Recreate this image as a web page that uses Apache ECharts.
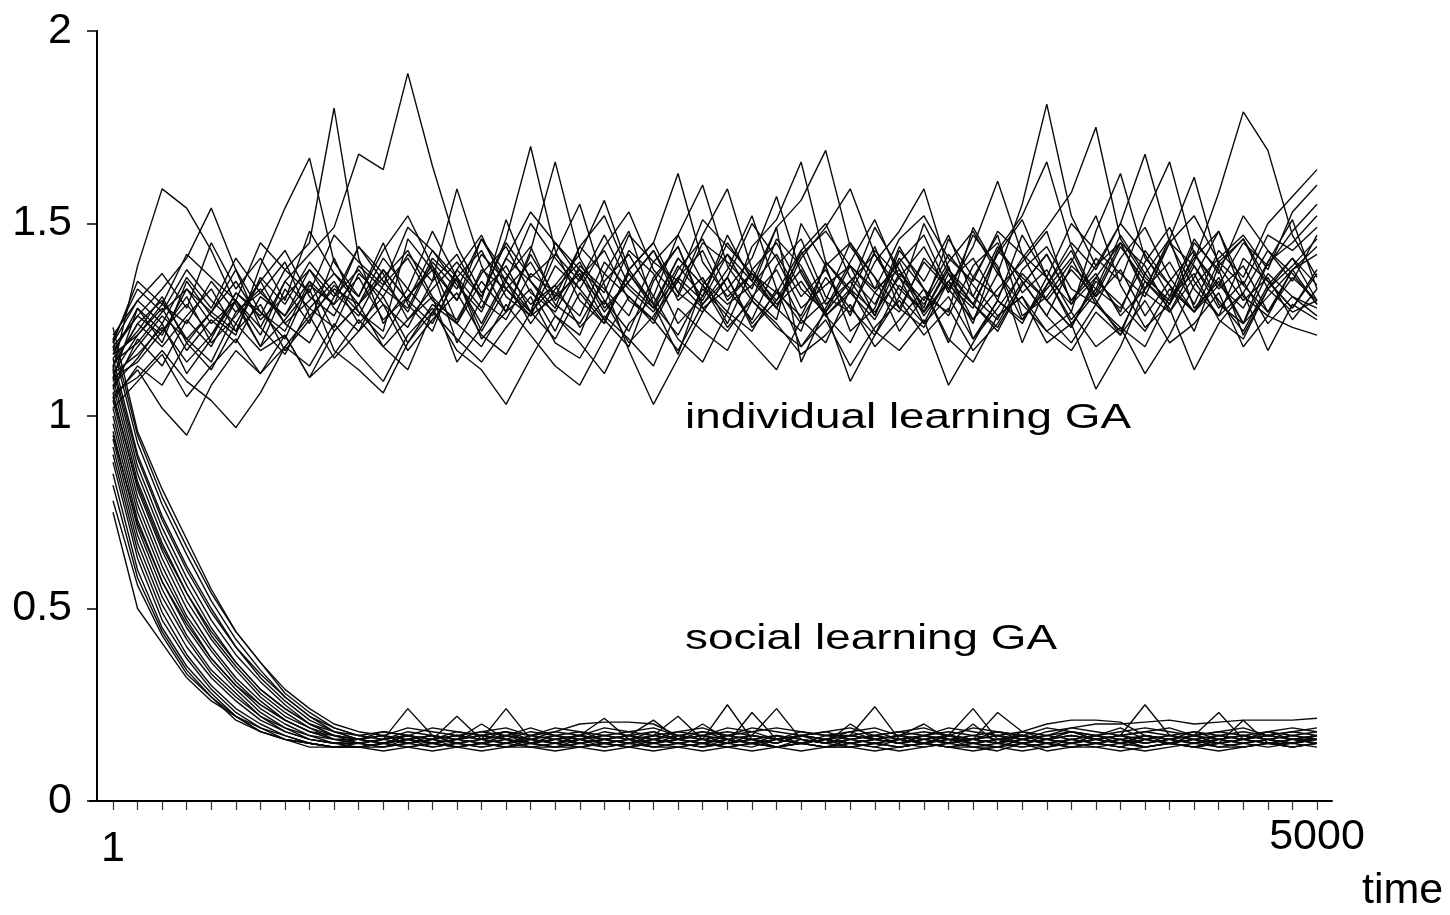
<!DOCTYPE html>
<html>
<head>
<meta charset="utf-8">
<script src="https://cdn.jsdelivr.net/npm/echarts@6/dist/echarts.min.js"></script>
<style>
  html, body { margin: 0; padding: 0; background: #fff; }
  #chart { width: 1450px; height: 915px; }
</style>
</head>
<body>
<div id="chart"></div>
<script>
// Sampled generations (50 samples from 1 to 5000)
const times = [1,103,205,307,409,511,613,715,817,919,
  1021,1123,1225,1327,1429,1531,1633,1735,1837,1939,
  2041,2143,2245,2347,2449,2552,2654,2756,2858,2960,
  3062,3164,3266,3368,3470,3572,3674,3776,3878,3980,
  4082,4184,4286,4388,4490,4592,4694,4796,4898,5000];

const xTickLabels = [1, 5000];
const yTicks = [0, 0.5, 1, 1.5, 2];

// Individual learning GA runs
const ind01 = [1.12,1.39,1.59,1.54,1.43,1.29,1.18,1.33,1.24,1.41, 1.27,1.22,1.46,1.38,1.19,1.30,1.51,1.35,1.26,1.21, 1.37,1.48,1.29,1.16,1.34,1.42,1.31,1.25,1.50,1.39, 1.22,1.28,1.44,1.33,1.19,1.36,1.47,1.26,1.31,1.40, 1.52,1.34,1.23,1.29,1.45,1.38,1.21,1.33,1.41,1.30];
const ind02 = [1.08,1.15,1.24,1.11,1.20,1.32,1.26,1.38,1.45,1.80, 1.41,1.24,1.33,1.48,1.36,1.20,1.27,1.42,1.31,1.37, 1.25,1.18,1.35,1.44,1.29,1.38,1.52,1.33,1.24,1.30, 1.45,1.36,1.22,1.31,1.27,1.49,1.38,1.25,1.34,1.43, 1.30,1.21,1.37,1.46,1.28,1.35,1.24,1.40,1.51,1.33];
const ind03 = [1.15,1.22,1.31,1.19,1.27,1.38,1.23,1.35,1.42,1.49, 1.68,1.64,1.89,1.65,1.44,1.32,1.39,1.27,1.45,1.36, 1.29,1.43,1.37,1.24,1.31,1.47,1.35,1.28,1.22,1.40, 1.33,1.49,1.38,1.26,1.35,1.29,1.42,1.51,1.36,1.24, 1.32,1.45,1.39,1.27,1.36,1.48,1.31,1.26,1.38,1.44];
const ind04 = [1.10,1.28,1.19,1.35,1.26,1.21,1.39,1.54,1.67,1.40, 1.31,1.45,1.29,1.22,1.38,1.47,1.33,1.26,1.31,1.44, 1.52,1.37,1.28,1.41,1.34,1.23,1.30,1.46,1.39,1.27, 1.35,1.42,1.31,1.50,1.37,1.25,1.33,1.40,1.48,1.29, 1.36,1.27,1.43,1.34,1.22,1.39,1.46,1.35,1.28,1.38];
const ind05 = [1.05,1.12,1.02,0.95,1.08,1.17,1.11,1.21,1.10,1.16, 1.25,1.18,1.12,1.27,1.20,1.14,1.23,1.31,1.19,1.15, 1.26,1.20,1.13,1.28,1.22,1.17,1.30,1.24,1.16,1.21, 1.29,1.18,1.25,1.33,1.20,1.14,1.26,1.31,1.22,1.17, 1.27,1.21,1.30,1.19,1.24,1.32,1.18,1.26,1.23,1.21];
const ind06 = [1.06,1.10,1.17,1.09,1.04,0.97,1.06,1.18,1.13,1.24, 1.16,1.09,1.21,1.28,1.17,1.12,1.03,1.15,1.26,1.19, 1.11,1.24,1.31,1.20,1.14,1.27,1.22,1.33,1.18,1.25, 1.13,1.23,1.30,1.21,1.28,1.17,1.24,1.35,1.26,1.19, 1.29,1.23,1.18,1.31,1.37,1.25,1.20,1.33,1.27,1.30];
const ind07 = [1.18,1.26,1.33,1.41,1.54,1.38,1.27,1.22,1.35,1.29, 1.44,1.37,1.25,1.33,1.40,1.31,1.46,1.70,1.43,1.30, 1.24,1.38,1.45,1.32,1.27,1.36,1.50,1.41,1.28,1.34, 1.39,1.26,1.43,1.35,1.47,1.31,1.25,1.38,1.44,1.33, 1.29,1.41,1.49,1.36,1.27,1.34,1.45,1.39,1.48,1.55];
const ind08 = [1.14,1.19,1.27,1.33,1.24,1.30,1.21,1.35,1.28,1.23, 1.37,1.31,1.42,1.35,1.59,1.39,1.27,1.33,1.22,1.36, 1.43,1.30,1.25,1.38,1.46,1.33,1.41,1.57,1.37,1.26, 1.32,1.44,1.28,1.23,1.35,1.41,1.30,1.47,1.36,1.25, 1.33,1.28,1.40,1.49,1.35,1.26,1.32,1.43,1.37,1.29];
const ind09 = [1.11,1.16,1.23,1.14,1.21,1.30,1.18,1.25,1.33,1.17, 1.12,1.06,1.19,1.29,1.24,1.35,1.27,1.43,1.66,1.41, 1.30,1.22,1.36,1.44,1.28,1.33,1.25,1.39,1.46,1.31, 1.27,1.40,1.48,1.59,1.38,1.29,1.23,1.34,1.42,1.30, 1.37,1.26,1.33,1.45,1.39,1.28,1.35,1.24,1.31,1.26];
const ind10 = [1.16,1.28,1.22,1.31,1.19,1.26,1.35,1.24,1.30,1.37, 1.29,1.41,1.33,1.26,1.38,1.31,1.45,1.36,1.42,1.55, 1.34,1.17,1.03,1.15,1.27,1.36,1.24,1.32,1.43,1.29, 1.35,1.26,1.40,1.47,1.33,1.44,1.61,1.42,1.30,1.23, 1.36,1.45,1.32,1.27,1.39,1.30,1.22,1.34,1.41,1.34];
const ind11 = [1.13,1.24,1.18,1.26,1.33,1.22,1.29,1.17,1.25,1.34, 1.27,1.20,1.31,1.39,1.24,1.18,1.29,1.21,1.13,1.08, 1.20,1.31,1.25,1.17,1.29,1.36,1.23,1.30,1.38,1.26, 1.19,1.32,1.40,1.27,1.35,1.24,1.43,1.52,1.66,1.44, 1.31,1.38,1.26,1.35,1.43,1.29,1.24,1.37,1.31,1.28];
const ind12 = [1.19,1.30,1.24,1.36,1.28,1.41,1.32,1.26,1.38,1.31, 1.44,1.35,1.27,1.40,1.33,1.46,1.37,1.29,1.34,1.42, 1.56,1.38,1.45,1.63,1.40,1.31,1.37,1.28,1.43,1.50, 1.36,1.29,1.41,1.33,1.26,1.39,1.45,1.32,1.38,1.27, 1.48,1.63,1.41,1.34,1.27,1.40,1.46,1.33,1.39,1.46];
const ind13 = [1.07,1.20,1.13,1.25,1.18,1.30,1.23,1.16,1.28,1.35, 1.24,1.31,1.19,1.27,1.36,1.22,1.33,1.40,1.29,1.24, 1.35,1.42,1.31,1.47,1.60,1.39,1.30,1.23,1.18,1.27, 1.09,1.21,1.31,1.24,1.37,1.29,1.22,1.34,1.42,1.30, 1.39,1.50,1.68,1.45,1.33,1.26,1.41,1.35,1.28,1.37];
const ind14 = [1.20,1.33,1.27,1.38,1.30,1.24,1.35,1.43,1.31,1.26, 1.39,1.33,1.28,1.41,1.35,1.24,1.36,1.44,1.30,1.38, 1.27,1.35,1.43,1.32,1.47,1.59,1.38,1.29,1.35,1.26, 1.33,1.22,1.17,1.25,1.08,1.19,1.30,1.24,1.36,1.29, 1.41,1.35,1.52,1.66,1.42,1.33,1.39,1.27,1.36,1.30];
const ind15 = [1.11,1.21,1.28,1.17,1.25,1.19,1.31,1.26,1.35,1.22, 1.29,1.38,1.30,1.24,1.36,1.43,1.31,1.26,1.39,1.33, 1.25,1.37,1.29,1.41,1.34,1.27,1.44,1.51,1.66,1.40, 1.32,1.25,1.37,1.30,1.42,1.34,1.26,1.31,1.19,1.24, 1.07,1.18,1.33,1.46,1.62,1.39,1.30,1.36,1.25,1.33];
const ind16 = [1.17,1.26,1.21,1.33,1.27,1.22,1.36,1.29,1.40,1.32, 1.26,1.38,1.30,1.43,1.34,1.27,1.41,1.35,1.28,1.44, 1.37,1.31,1.24,1.36,1.30,1.42,1.35,1.49,1.56,1.69, 1.44,1.36,1.28,1.40,1.33,1.25,1.37,1.29,1.22,1.27, 1.18,1.23,1.11,1.21,1.34,1.41,1.47,1.38,1.53,1.60];
const ind17 = [1.09,1.18,1.26,1.20,1.14,1.27,1.33,1.24,1.19,1.31, 1.38,1.29,1.23,1.35,1.42,1.30,1.25,1.37,1.32,1.26, 1.40,1.33,1.27,1.39,1.31,1.45,1.36,1.28,1.41,1.49, 1.59,1.42,1.33,1.27,1.38,1.31,1.44,1.35,1.26,1.39, 1.33,1.47,1.37,1.29,1.42,1.34,1.28,1.40,1.45,1.52];
const ind18 = [1.13,1.24,1.30,1.20,1.27,1.35,1.25,1.31,1.38,1.28, 1.22,1.34,1.41,1.30,1.25,1.37,1.44,1.32,1.27,1.39, 1.33,1.26,1.40,1.47,1.35,1.29,1.34,1.42,1.31,1.38, 1.26,1.43,1.36,1.29,1.40,1.48,1.37,1.55,1.81,1.52, 1.39,1.45,1.33,1.40,1.29,1.43,1.36,1.50,1.57,1.64];
const ind19 = [1.16,1.21,1.29,1.24,1.35,1.27,1.32,1.40,1.26,1.33, 1.29,1.36,1.43,1.31,1.24,1.38,1.33,1.27,1.42,1.35, 1.47,1.34,1.28,1.36,1.43,1.30,1.37,1.32,1.26,1.39, 1.45,1.33,1.38,1.28,1.46,1.36,1.31,1.41,1.49,1.58, 1.75,1.46,1.36,1.30,1.41,1.48,1.34,1.27,1.38,1.42];
const ind20 = [1.10,1.14,1.22,1.29,1.21,1.32,1.27,1.20,1.34,1.29, 1.36,1.25,1.31,1.38,1.30,1.42,1.35,1.24,1.33,1.40, 1.28,1.35,1.43,1.30,1.36,1.24,1.38,1.45,1.33,1.27, 1.39,1.32,1.27,1.41,1.34,1.28,1.43,1.36,1.30,1.38, 1.31,1.44,1.35,1.29,1.40,1.58,1.79,1.69,1.47,1.36];
const ind21 = [1.04,1.13,1.08,1.19,1.12,1.24,1.17,1.21,1.10,1.22, 1.29,1.18,1.25,1.31,1.14,1.23,1.35,1.27,1.20,1.32, 1.24,1.38,1.29,1.21,1.33,1.26,1.19,1.12,1.25,1.36, 1.28,1.21,1.34,1.27,1.39,1.20,1.30,1.25,1.33,1.41, 1.29,1.22,1.35,1.28,1.12,1.24,1.32,1.17,1.29,1.25];
const ind22 = [1.21,1.30,1.37,1.28,1.45,1.33,1.41,1.30,1.48,1.37, 1.31,1.43,1.52,1.39,1.30,1.46,1.35,1.50,1.41,1.33, 1.44,1.53,1.38,1.31,1.45,1.40,1.33,1.49,1.14,1.28, 1.40,1.51,1.36,1.44,1.32,1.47,1.39,1.19,1.34,1.45, 1.38,1.50,1.42,1.31,1.46,1.37,1.52,1.43,1.35,1.47];
const ind23 = [1.02,1.09,1.16,1.05,1.13,1.20,1.11,1.18,1.26,1.15, 1.22,1.29,1.17,1.25,1.32,1.21,1.16,1.27,1.34,1.23, 1.30,1.19,1.26,1.35,1.28,1.22,1.31,1.38,1.25,1.19, 1.33,1.27,1.36,1.24,1.31,1.20,1.28,1.37,1.30,1.23, 1.35,1.29,1.22,1.33,1.27,1.36,1.24,1.31,1.38,1.29];
const ind24 = [1.19,1.35,1.29,1.42,1.36,1.30,1.45,1.38,1.32,1.47, 1.40,1.34,1.49,1.43,1.36,1.28,1.41,1.53,1.45,1.38, 1.32,1.47,1.40,1.35,1.51,1.44,1.37,1.30,1.42,1.48, 1.39,1.33,1.46,1.52,1.41,1.35,1.48,1.42,1.36,1.50, 1.43,1.37,1.31,1.45,1.52,1.40,1.34,1.47,1.43,1.49];

// Social learning GA runs
const soc01 = [1.23,0.96,0.81,0.68,0.55,0.44,0.36,0.28,0.23,0.19, 0.17,0.16,0.24,0.17,0.15,0.16,0.18,0.15,0.16,0.17, 0.15,0.16,0.18,0.16,0.15,0.17,0.16,0.15,0.17,0.16, 0.18,0.16,0.15,0.17,0.16,0.16,0.15,0.17,0.16,0.18, 0.16,0.15,0.17,0.16,0.15,0.17,0.16,0.18,0.16,0.17];
const soc02 = [1.18,0.93,0.77,0.64,0.52,0.42,0.34,0.27,0.22,0.18, 0.16,0.15,0.17,0.16,0.22,0.16,0.15,0.17,0.16,0.15, 0.16,0.17,0.15,0.16,0.18,0.16,0.15,0.16,0.17,0.15, 0.16,0.17,0.16,0.15,0.17,0.16,0.15,0.18,0.16,0.15, 0.17,0.16,0.15,0.16,0.17,0.15,0.16,0.17,0.16,0.15];
const soc03 = [1.15,0.90,0.74,0.61,0.50,0.40,0.32,0.26,0.21,0.18, 0.16,0.17,0.15,0.16,0.17,0.16,0.24,0.16,0.15,0.17, 0.16,0.15,0.16,0.17,0.16,0.15,0.17,0.16,0.15,0.16, 0.17,0.16,0.15,0.17,0.16,0.15,0.16,0.17,0.15,0.16, 0.17,0.16,0.15,0.16,0.18,0.16,0.15,0.16,0.17,0.16];
const soc04 = [1.12,0.87,0.71,0.58,0.47,0.38,0.31,0.25,0.20,0.17, 0.16,0.15,0.16,0.17,0.15,0.16,0.17,0.16,0.18,0.20, 0.205,0.205,0.20,0.17,0.16,0.25,0.16,0.15,0.17,0.16, 0.15,0.16,0.17,0.16,0.15,0.16,0.17,0.15,0.16,0.17, 0.16,0.15,0.17,0.16,0.15,0.16,0.17,0.16,0.15,0.16];
const soc05 = [1.10,0.85,0.69,0.56,0.45,0.36,0.29,0.24,0.20,0.17, 0.15,0.16,0.17,0.15,0.16,0.17,0.16,0.15,0.16,0.17, 0.215,0.16,0.15,0.17,0.16,0.15,0.23,0.16,0.15,0.17, 0.16,0.15,0.16,0.17,0.15,0.16,0.17,0.16,0.15,0.16, 0.17,0.15,0.16,0.17,0.16,0.15,0.16,0.17,0.16,0.15];
const soc06 = [1.08,0.83,0.67,0.54,0.43,0.35,0.28,0.23,0.19,0.17, 0.16,0.15,0.16,0.17,0.16,0.20,0.16,0.15,0.16,0.17, 0.16,0.15,0.17,0.16,0.15,0.16,0.17,0.24,0.16,0.15, 0.17,0.16,0.15,0.16,0.17,0.15,0.16,0.17,0.16,0.15, 0.16,0.17,0.15,0.16,0.17,0.16,0.15,0.16,0.17,0.16];
const soc07 = [1.06,0.81,0.65,0.52,0.42,0.34,0.27,0.22,0.19,0.16, 0.15,0.16,0.17,0.16,0.15,0.16,0.17,0.15,0.16,0.17, 0.16,0.15,0.17,0.22,0.16,0.15,0.16,0.17,0.15,0.16, 0.17,0.245,0.16,0.15,0.17,0.16,0.15,0.16,0.17,0.16, 0.15,0.16,0.17,0.15,0.16,0.17,0.16,0.15,0.16,0.17];
const soc08 = [1.04,0.79,0.63,0.50,0.40,0.32,0.26,0.21,0.18,0.16, 0.16,0.17,0.15,0.16,0.17,0.16,0.15,0.17,0.16,0.15, 0.16,0.17,0.21,0.16,0.15,0.16,0.17,0.16,0.15,0.16, 0.17,0.16,0.15,0.16,0.17,0.24,0.16,0.15,0.16,0.17, 0.16,0.15,0.17,0.16,0.15,0.16,0.17,0.16,0.15,0.16];
const soc09 = [1.02,0.77,0.61,0.48,0.39,0.31,0.25,0.21,0.18,0.16, 0.15,0.16,0.17,0.15,0.16,0.17,0.16,0.15,0.17,0.16, 0.15,0.16,0.17,0.16,0.20,0.16,0.15,0.17,0.16,0.15, 0.16,0.17,0.15,0.16,0.17,0.16,0.23,0.18,0.20,0.21, 0.21,0.205,0.17,0.16,0.15,0.16,0.17,0.16,0.15,0.16];
const soc10 = [1.00,0.75,0.59,0.47,0.37,0.30,0.24,0.20,0.17,0.16, 0.16,0.15,0.16,0.17,0.16,0.15,0.17,0.16,0.15,0.16, 0.17,0.16,0.15,0.16,0.17,0.15,0.16,0.17,0.16,0.15, 0.20,0.16,0.17,0.15,0.16,0.17,0.16,0.15,0.16,0.17, 0.16,0.17,0.25,0.17,0.16,0.15,0.16,0.17,0.16,0.15];
const soc11 = [0.98,0.73,0.57,0.45,0.36,0.29,0.23,0.19,0.17,0.15, 0.15,0.16,0.15,0.16,0.17,0.16,0.15,0.16,0.17,0.15, 0.16,0.17,0.16,0.15,0.16,0.17,0.16,0.15,0.17,0.16, 0.15,0.16,0.17,0.20,0.16,0.15,0.16,0.17,0.16,0.15, 0.16,0.17,0.16,0.15,0.17,0.23,0.16,0.15,0.16,0.17];
const soc12 = [0.96,0.71,0.55,0.43,0.34,0.28,0.22,0.19,0.16,0.15, 0.16,0.17,0.16,0.15,0.16,0.17,0.18,0.16,0.15,0.16, 0.17,0.16,0.15,0.16,0.17,0.16,0.15,0.16,0.17,0.16, 0.15,0.16,0.17,0.16,0.15,0.16,0.17,0.16,0.18,0.19, 0.20,0.20,0.205,0.21,0.20,0.205,0.21,0.21,0.21,0.215];
const soc13 = [0.94,0.69,0.53,0.42,0.33,0.27,0.22,0.18,0.16,0.15, 0.14,0.15,0.16,0.15,0.14,0.15,0.16,0.15,0.14,0.15, 0.16,0.15,0.14,0.15,0.16,0.15,0.14,0.16,0.15,0.14, 0.15,0.16,0.15,0.14,0.15,0.20,0.15,0.14,0.15,0.16, 0.15,0.14,0.16,0.15,0.14,0.15,0.21,0.15,0.14,0.15];
const soc14 = [0.92,0.67,0.51,0.40,0.32,0.26,0.21,0.18,0.16,0.15, 0.15,0.14,0.15,0.16,0.14,0.15,0.14,0.16,0.15,0.14, 0.15,0.16,0.14,0.15,0.14,0.15,0.16,0.14,0.15,0.16, 0.14,0.15,0.16,0.15,0.14,0.15,0.14,0.16,0.15,0.14, 0.15,0.16,0.14,0.15,0.16,0.14,0.15,0.16,0.15,0.16];
const soc15 = [0.90,0.65,0.49,0.38,0.30,0.24,0.20,0.17,0.15,0.14, 0.14,0.15,0.14,0.15,0.16,0.15,0.14,0.15,0.14,0.16, 0.15,0.14,0.15,0.16,0.15,0.14,0.15,0.14,0.16,0.15, 0.14,0.15,0.14,0.15,0.16,0.14,0.13,0.15,0.14,0.15, 0.16,0.15,0.14,0.15,0.14,0.16,0.15,0.14,0.15,0.14];
const soc16 = [0.88,0.63,0.47,0.37,0.29,0.23,0.19,0.17,0.15,0.14, 0.14,0.13,0.14,0.15,0.14,0.13,0.14,0.15,0.14,0.14, 0.13,0.14,0.15,0.14,0.13,0.14,0.15,0.14,0.13,0.14, 0.15,0.14,0.13,0.14,0.15,0.14,0.14,0.13,0.14,0.15, 0.14,0.13,0.14,0.15,0.14,0.13,0.14,0.15,0.14,0.15];
const soc17 = [0.85,0.60,0.45,0.35,0.28,0.22,0.19,0.16,0.15,0.14, 0.15,0.14,0.16,0.15,0.14,0.15,0.16,0.14,0.15,0.16, 0.14,0.15,0.16,0.15,0.14,0.16,0.15,0.14,0.15,0.16, 0.15,0.14,0.16,0.15,0.14,0.15,0.16,0.15,0.14,0.16, 0.15,0.14,0.16,0.15,0.16,0.14,0.15,0.16,0.15,0.17];
const soc18 = [0.82,0.58,0.44,0.34,0.27,0.22,0.18,0.16,0.15,0.14, 0.14,0.15,0.14,0.13,0.14,0.15,0.14,0.14,0.13,0.14, 0.15,0.14,0.13,0.14,0.15,0.14,0.13,0.14,0.15,0.14, 0.14,0.13,0.14,0.15,0.14,0.13,0.14,0.15,0.13,0.14, 0.15,0.14,0.13,0.14,0.15,0.14,0.14,0.15,0.14,0.15];
const soc19 = [0.78,0.56,0.43,0.33,0.27,0.21,0.18,0.16,0.14,0.14, 0.14,0.15,0.16,0.14,0.15,0.14,0.15,0.16,0.15,0.14, 0.15,0.14,0.16,0.15,0.14,0.15,0.16,0.14,0.15,0.14, 0.16,0.15,0.14,0.15,0.16,0.15,0.14,0.16,0.15,0.14, 0.15,0.16,0.14,0.15,0.14,0.15,0.16,0.15,0.16,0.16];
const soc20 = [0.75,0.50,0.41,0.32,0.26,0.22,0.18,0.16,0.15,0.14, 0.14,0.14,0.15,0.14,0.15,0.14,0.15,0.14,0.14,0.15, 0.14,0.15,0.14,0.14,0.15,0.14,0.15,0.14,0.15,0.14, 0.14,0.15,0.14,0.15,0.14,0.14,0.15,0.14,0.15,0.14, 0.14,0.15,0.14,0.15,0.14,0.15,0.14,0.15,0.15,0.16];
const soc21 = [1.20,0.95,0.79,0.66,0.54,0.44,0.36,0.29,0.24,0.20, 0.18,0.17,0.19,0.18,0.17,0.18,0.19,0.17,0.18,0.17, 0.19,0.18,0.17,0.18,0.19,0.17,0.18,0.19,0.18,0.17, 0.18,0.19,0.17,0.18,0.17,0.19,0.18,0.17,0.19,0.18, 0.17,0.18,0.19,0.18,0.17,0.18,0.19,0.17,0.18,0.19];
const soc22 = [1.13,0.89,0.73,0.60,0.49,0.40,0.33,0.27,0.22,0.19, 0.17,0.18,0.17,0.19,0.18,0.17,0.18,0.17,0.19,0.18, 0.17,0.18,0.19,0.17,0.18,0.17,0.19,0.18,0.17,0.18, 0.19,0.17,0.18,0.17,0.19,0.18,0.17,0.18,0.17,0.19, 0.18,0.17,0.18,0.19,0.17,0.18,0.17,0.18,0.19,0.18];
const soc23 = [1.05,0.82,0.66,0.54,0.44,0.36,0.29,0.24,0.20,0.18, 0.17,0.16,0.18,0.17,0.16,0.18,0.17,0.19,0.17,0.16, 0.18,0.17,0.16,0.18,0.17,0.19,0.18,0.16,0.17,0.18, 0.16,0.17,0.18,0.19,0.17,0.16,0.18,0.17,0.16,0.18, 0.17,0.19,0.16,0.17,0.18,0.17,0.16,0.18,0.17,0.18];
const soc24 = [0.95,0.72,0.57,0.46,0.37,0.30,0.25,0.21,0.18,0.17, 0.16,0.18,0.17,0.16,0.18,0.17,0.16,0.18,0.17,0.18, 0.16,0.17,0.18,0.16,0.17,0.18,0.17,0.16,0.18,0.17, 0.17,0.18,0.16,0.17,0.18,0.17,0.18,0.16,0.17,0.18, 0.16,0.17,0.18,0.17,0.16,0.17,0.18,0.17,0.18,0.17];

const individualRuns = [ind01, ind02, ind03, ind04, ind05, ind06, ind07, ind08, ind09, ind10, ind11, ind12,
  ind13, ind14, ind15, ind16, ind17, ind18, ind19, ind20, ind21, ind22, ind23, ind24];
const socialRuns = [soc01, soc02, soc03, soc04, soc05, soc06, soc07, soc08, soc09, soc10, soc11, soc12,
  soc13, soc14, soc15, soc16, soc17, soc18, soc19, soc20, soc21, soc22, soc23, soc24];

const FONT = '"Liberation Sans", Arial, Helvetica, sans-serif';
const INK = '#000';

function runSeries(runs, group) {
  return runs.map((run, r) => ({
    name: group + ' ' + (r + 1),
    type: 'line',
    data: run.map((v, k) => [times[k], v]),
    symbol: 'none',
    showSymbol: false,
    silent: true,
    lineStyle: { color: '#0a0a0a', width: 1.4 },
    emphasis: { disabled: true }
  }));
}

const chart = echarts.init(document.getElementById('chart'), null, { renderer: 'canvas' });

chart.setOption({
  animation: false,
  backgroundColor: '#fff',
  grid: { left: 90, right: 118, top: 31, bottom: 114, containLabel: false },
  xAxis: {
    type: 'value',
    min: -94.5,
    max: 5062.3,
    splitLine: { show: false },
    axisLine: { show: true, onZero: false, lineStyle: { color: INK, width: 2 } },
    axisTick: {
      show: true,
      customValues: times,
      length: 9,
      lineStyle: { color: '#333', width: 1.2 }
    },
    axisLabel: {
      customValues: xTickLabels,
      margin: 15,
      color: INK,
      fontSize: 43,
      fontFamily: FONT,
      formatter: v => (v === 1 ? '{first|1}' : String(v)),
      rich: { first: { fontSize: 43, fontFamily: FONT, color: INK, padding: [12, 0, 0, 0] } }
    }
  },
  yAxis: {
    type: 'value',
    min: yTicks[0],
    max: yTicks[yTicks.length - 1],
    interval: 0.5,
    offset: -7,
    splitLine: { show: false },
    axisLine: { show: true, onZero: false, lineStyle: { color: INK, width: 2 } },
    axisTick: { show: true, length: 10, lineStyle: { color: INK, width: 1.5 } },
    axisLabel: { margin: 25, color: INK, fontSize: 43, fontFamily: FONT }
  },
  graphic: [
    {
      type: 'text', x: 685, y: 418, scaleX: 1.31, silent: true,
      style: { text: 'individual learning GA', fontSize: 35, fontFamily: FONT, fill: INK, align: 'left', verticalAlign: 'middle' }
    },
    {
      type: 'text', x: 685, y: 639, scaleX: 1.31, silent: true,
      style: { text: 'social learning GA', fontSize: 35, fontFamily: FONT, fill: INK, align: 'left', verticalAlign: 'middle' }
    },
    {
      type: 'text', x: 1362, y: 891, silent: true,
      style: { text: 'time', fontSize: 43, fontFamily: FONT, fill: INK, align: 'left', verticalAlign: 'middle' }
    }
  ],
  series: runSeries(individualRuns, 'individual').concat(runSeries(socialRuns, 'social'))
});
</script>
</body>
</html>
